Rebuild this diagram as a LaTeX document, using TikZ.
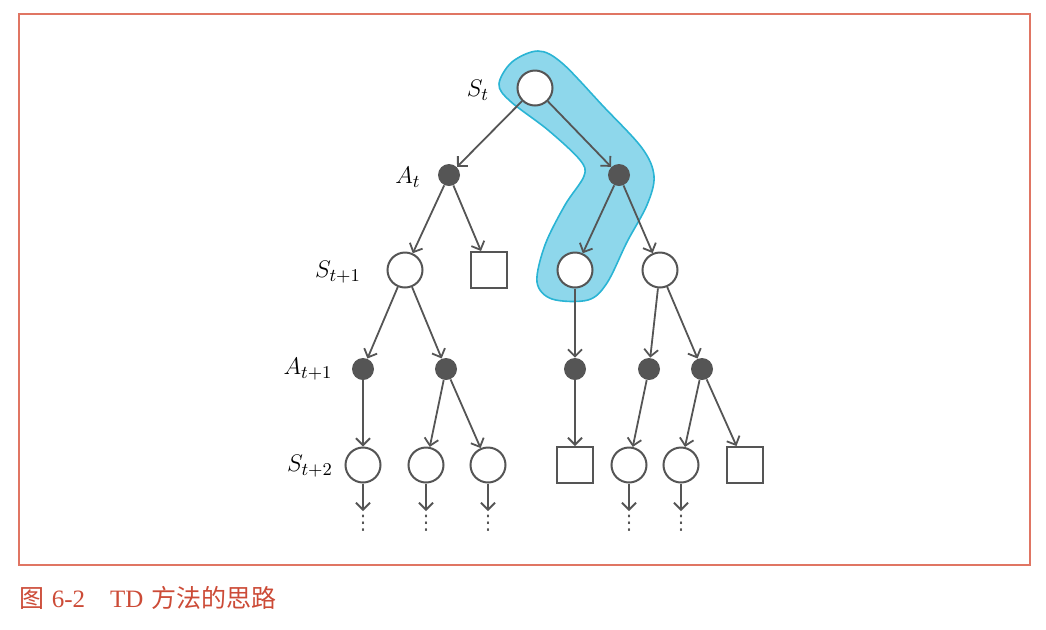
\documentclass[tikz,border=0pt]{standalone}
\usepackage{fontspec}
\newfontfamily\cjk{Noto Sans CJK SC}
\newfontfamily\capserif{Liberation Serif}
\newfontfamily\dejavu{DejaVu Sans}
\usetikzlibrary{arrows.meta}
\definecolor{linec}{HTML}{555555}
\definecolor{framec}{HTML}{E07563}
\definecolor{capc}{HTML}{CC4B37}
\definecolor{hlfill}{HTML}{8ED7EB}
\definecolor{hlline}{HTML}{2AB4D4}
\tikzset{
  state/.style={circle, draw=linec, line width=1pt, fill=white, minimum size=17.5pt, inner sep=0pt},
  act/.style={circle, fill=linec, minimum size=11pt, inner sep=0pt},
  term/.style={rectangle, draw=linec, line width=1pt, fill=white, minimum size=18pt, inner sep=0pt},
  arr/.style={draw=linec, line width=0.9pt, -{Straight Barb[length=3.5pt,width=7pt]}},
  lab/.style={font=\fontsize{13}{15}\selectfont},
  dotsl/.style={text=linec, font=\dejavu\fontsize{10}{12}\selectfont, inner sep=0pt},
}
\begin{document}
\begin{tikzpicture}[x=0.5pt,y=-0.5pt]
\useasboundingbox (0,0) rectangle (1046,629);
\draw[framec, line width=0.6pt] (19,14) rectangle (1030,565);
% highlight band
\draw[draw=hlline, fill=hlfill, line width=0.8pt]
  plot[smooth cycle, tension=0.55] coordinates {
  (499,84) (512,62) (538,51) (562,63) (603,106) (642,148) (654,176)
  (647,205) (627,242) (607,283) (588,300) (552,299) (537,282) (545,245)
  (565,205) (584,176) (580,160) (548,130) (510,101)};
% level 0
\node[state] (s0) at (535,88) {};
% level 1
\node[act] (a1) at (449,175) {};
\node[act] (a2) at (619,175) {};
% level 2
\node[state] (s1) at (405,270) {};
\node[term] (q1) at (489,270) {};
\node[state] (s2) at (575,270) {};
\node[state] (s3) at (660,270) {};
% level 3
\node[act] (b1) at (363,369) {};
\node[act] (b2) at (446,369) {};
\node[act] (b3) at (575,369) {};
\node[act] (b4) at (649,369) {};
\node[act] (b5) at (702,369) {};
% level 4
\node[state] (c1) at (363,465) {};
\node[state] (c2) at (426,465) {};
\node[state] (c3) at (488,465) {};
\node[term]  (c4) at (575,465) {};
\node[state] (c5) at (629,465) {};
\node[state] (c6) at (681,465) {};
\node[term]  (c7) at (745,465) {};
% edges
\draw[arr] (s0) -- (a1);
\draw[arr] (s0) -- (a2);
\draw[arr] (a1) -- (s1);
\draw[arr] (a1) -- (q1);
\draw[arr] (a2) -- (s2);
\draw[arr] (a2) -- (s3);
\draw[arr] (s1) -- (b1);
\draw[arr] (s1) -- (b2);
\draw[arr] (s2) -- (b3);
\draw[arr] (s3) -- (b4);
\draw[arr] (s3) -- (b5);
\draw[arr] (b1) -- (c1);
\draw[arr] (b2) -- (c2);
\draw[arr] (b2) -- (c3);
\draw[arr] (b3) -- (c4);
\draw[arr] (b4) -- (c5);
\draw[arr] (b5) -- (c6);
\draw[arr] (b5) -- (c7);
% continuation
\foreach \n/\x in {c1/363,c2/426,c3/488,c5/629,c6/681}{
  \coordinate (e\n) at (\x,511);
  \draw[arr] (\n) -- (e\n);
  \node[dotsl] (d\n) at (\x,523) {⋮};
}
% labels
\node[lab] (lst) at (478,90) {$S_t$};
\node[lab] (lat) at (408,177) {$A_t$};
\node[lab] (ls1) at (338,272) {$S_{t+1}$};
\node[lab] (la1) at (308,369) {$A_{t+1}$};
\node[lab] (ls2) at (310,466) {$S_{t+2}$};
% caption
\node[anchor=west, inner sep=0pt, text=capc, font=\fontsize{12.5}{14}\selectfont] (cap) at (19,598)
  {\cjk 图\hspace{0.3em}\capserif 6-2\hspace{1em}TD\hspace{0.3em}\cjk 方法的思路};
\end{tikzpicture}
\end{document}
